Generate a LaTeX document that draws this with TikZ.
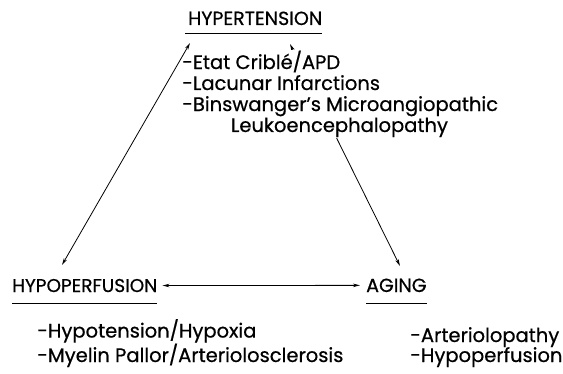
\documentclass[tikz,border=0pt]{standalone}
\usepackage{fontspec}
\setmainfont{Poppins}[FakeBold=0.6]
\usetikzlibrary{arrows.meta}

\begin{document}
\begin{tikzpicture}[x=1pt,y=1pt,
    lbl/.style={inner sep=0pt, anchor=base west, font=\fontsize{19}{21}\selectfont},
    lst/.style={inner sep=0pt, anchor=base west, align=left, font=\fontsize{19.5}{20}\selectfont},
    ar/.style={{Stealth[length=7pt,width=3.5pt]}-{Stealth[length=7pt,width=3.5pt]}, line width=0.8pt},
    uline/.style={line width=0.8pt}]
    \useasboundingbox (0,0) rectangle (563,373);

    \node[lbl] (hyper) at (188,348) {HYPERTENSION};
    \node[lbl, font=\fontsize{18.5}{21}\selectfont] (hypo) at (12,81) {HYPOPERFUSION};
    \node[lbl] (aging) at (366,81) {AGING};

    \draw[uline] ([xshift=-3pt,yshift=-8pt]hyper.base west) -- ([yshift=-8pt]hyper.base east);
    \draw[uline] ([yshift=-11pt]hypo.base west) -- ([yshift=-11pt]hypo.base east);
    \draw[uline] ([yshift=-11pt]aging.base west) -- ([yshift=-11pt]aging.base east);

    \coordinate (ht1) at (190,330);
    \coordinate (ht2) at (290,329);
    \coordinate (hp) at (62,108);
    \coordinate (ag) at (400,107);

    \draw[ar] (ht2) -- (ag);

    % causes listed under each heading (anchored on the last line)
    \node[lst, fill=white, inner ysep=1pt, font=\fontsize{19.5}{21}\selectfont] (lhyper) at (182,241)
        {-Etat Cribl\'e/APD\\-Lacunar Infarctions\\-Binswanger's Microangiopathic\\\hspace*{2.5em}Leukoencephalopathy};
    \node[lst] (lhypo) at (37,11) {-Hypotension/Hypoxia\\-Myelin Pallor/Arteriolosclerosis};
    \node[lst] (laging) at (410,11) {-Arteriolopathy\\-Hypoperfusion};

    \draw[ar] (ht1) -- (hp);
    \draw[ar] ([xshift=5pt]hypo.east) -- ([xshift=-6pt]aging.east -| aging.west);

\end{tikzpicture}
\end{document}
